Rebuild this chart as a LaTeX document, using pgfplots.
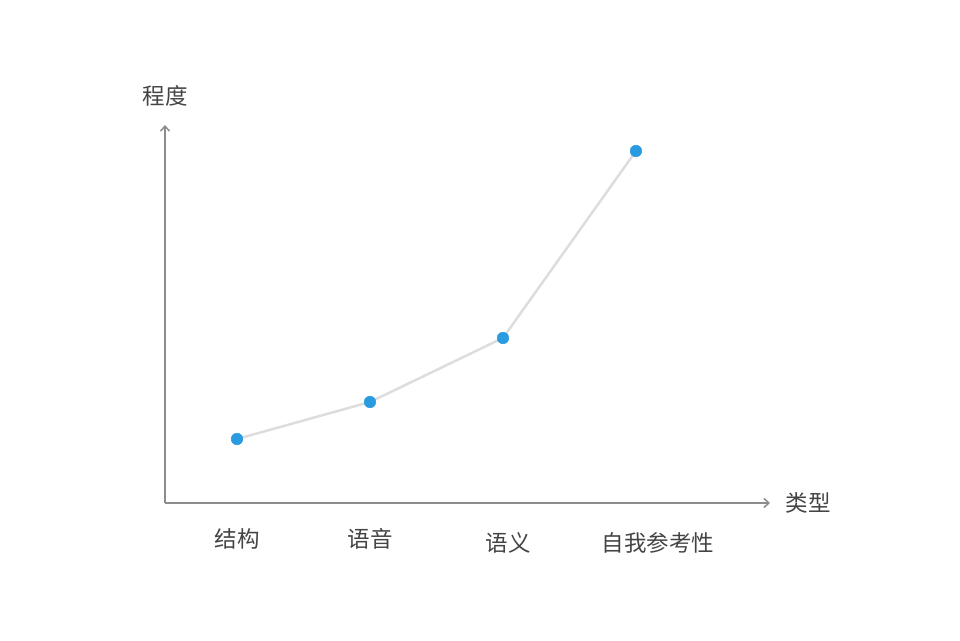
\documentclass[border=0pt]{standalone}
\usepackage{pgfplots}
\pgfplotsset{compat=1.18}
\usetikzlibrary{arrows.meta}
\usepackage{fontspec}
\newfontfamily\cjk{Noto Sans CJK SC}
\definecolor{axgray}{HTML}{8C8C8C}
\definecolor{linegray}{HTML}{DDDDDD}
\definecolor{dotblue}{HTML}{2A9BE0}
\definecolor{txt}{HTML}{444444}
\begin{document}
\begin{tikzpicture}[x=1pt,y=1pt]
\path[use as bounding box] (0,0) rectangle (960,640);
\begin{axis}[
  at={(165pt,137pt)}, anchor=south west,
  scale only axis, width=605pt, height=378pt,
  xmin=-0.5414, xmax=4.008, ymin=0, ymax=378,
  axis lines=left,
  axis line style={axgray, line width=1.5pt, -{Straight Barb[length=5pt,width=9pt]}},
  xtick=\empty, ytick=\empty,
  clip=false,
]
\addplot[linegray, line width=2.5pt, mark=*, mark size=5.8pt,
  mark options={draw=dotblue, fill=dotblue, line width=0.5pt}]
  coordinates {(0,64) (1,101) (2,165) (3,352)};
\end{axis}
\begin{scope}[every node/.style={font=\cjk\fontsize{22.5}{26}\selectfont, text=txt}]
\node at (165,544) {程度};
\node at (808,137) {类型};
\node at (237,101) {结构};
\node at (370,101) {语音};
\node at (508,97) {语义};
\node at (658,97) {自我参考性};
\end{scope}
\end{tikzpicture}
\end{document}
